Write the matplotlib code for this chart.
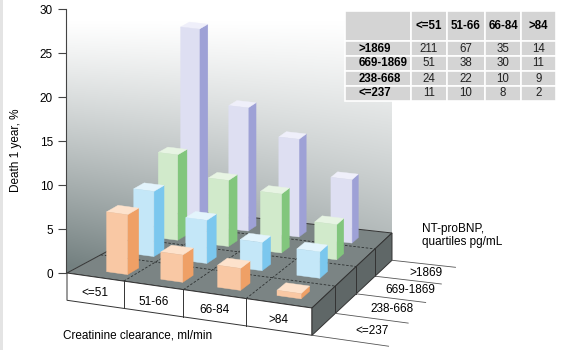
import numpy as np
import matplotlib
matplotlib.use("Agg")
import matplotlib.pyplot as plt
from matplotlib.patches import Polygon, Rectangle

plt.rcParams['font.family'] = ['Liberation Sans', 'DejaVu Sans']

# categories
clearance = ['<=51', '51-66', '66-84', '>84']
ntprobnp = ['<=237', '238-668', '669-1869', '>1869']   # front row -> back row

# death at 1 year, % (one list per NT-proBNP quartile, by clearance group)
death_le237 = [6.8, 3.1, 2.5, 0.6]
death_238_668 = [7.4, 4.9, 3.2, 3.0]
death_669_1869 = [9.7, 7.5, 6.7, 4.0]
death_gt1869 = [22.3, 14.0, 11.1, 7.2]

# numbers in the inset table
n_gt1869 = [211, 67, 35, 14]
n_669_1869 = [51, 38, 30, 11]
n_238_668 = [24, 22, 10, 9]
n_le237 = [11, 10, 8, 2]

yticks = [0, 5, 10, 15, 20, 25, 30]

# bar colours: front, side, top
colors = [
    ('#f9c8a4', '#efa066', '#fde2cc'),
    ('#c4e7f8', '#7bc7ee', '#e3f4fc'),
    ('#d1eacb', '#82c67d', '#e7f4e3'),
    ('#dedff2', '#9ea1d6', '#efeffa'),
]

# ---- perspective projection of the floor --------------------
W, H = 561, 356
ZERO_PX = 273.0      # pixel row of value 0 at the axis
PX_PER_UNIT = 8.8
SLAB = 3.1           # thickness of the base, in value units
floor_px_corners = [(67, 273), (312, 308), (392, 233), (184, 210)]
floor_world = [(0, 0), (4, 0), (4, 4), (0, 4)]

A = []
b = []
for (u, v), (x, y) in zip(floor_world, floor_px_corners):
    A.append([u, v, 1, 0, 0, 0, -u * x, -v * x])
    A.append([0, 0, 0, u, v, 1, -u * y, -v * y])
    b += [x, y]
hv = np.linalg.solve(np.array(A, float), np.array(b, float))
Hm = np.append(hv, 1).reshape(3, 3)


def proj(X, Y, Z=0.0):
    p = Hm @ np.array([X, Y, 1.0])
    x, y = p[0] / p[2], p[1] / p[2]
    return x, (ZERO_PX - y) / PX_PER_UNIT + Z


def poly(pts, **kw):
    return Polygon([proj(*p) for p in pts], closed=True, **kw)


fig = plt.figure(figsize=(W / 100, H / 100), dpi=100)
ax = fig.add_axes([0, 0, 1, 1])
ax.set_xlim(0, W)
ax.set_ylim((ZERO_PX - H) / PX_PER_UNIT, ZERO_PX / PX_PER_UNIT)

# thin grey strip at the left edge of the panel
ax.add_patch(Rectangle((0, (ZERO_PX - 350) / PX_PER_UNIT), 3.5, 350 / PX_PER_UNIT,
                       facecolor='#e4e4e4', edgecolor='none', zorder=0.2))

# ---- walls with gradient ---------------------------------------------
ypx, xpx = np.mgrid[0:H, 0:W]
t = np.clip((ypx - 20) / 245.0, 0, 1) ** 1.15
t = t * (1 - 0.38 * np.clip((xpx - 66) / 330.0, 0, 1))
dark = np.array([0.45, 0.50, 0.50])
img = 1 - t[..., None] * (1 - dark)[None, None, :]
wall = poly([(0, 0, 0), (0, 4, 0), (4, 4, 0), (4, 4, 30), (0, 4, 30), (0, 0, 30)],
            facecolor='none', edgecolor='none')
ax.add_patch(wall)
im = ax.imshow(img, extent=(0, W, (ZERO_PX - H) / PX_PER_UNIT, ZERO_PX / PX_PER_UNIT),
               aspect='auto', zorder=0.5, interpolation='bilinear')
im.set_clip_path(wall)

# ---- base slab ---------------------------------------------------------
ax.add_patch(poly([(0, 0, 0), (4, 0, 0), (4, 4, 0), (0, 4, 0)],
                  facecolor='#7b8484', edgecolor='#333333', lw=0.7, zorder=1))
ax.add_patch(poly([(0, 0, 0), (4, 0, 0), (4, 0, -SLAB), (0, 0, -SLAB)],
                  facecolor='white', edgecolor='#333333', lw=0.7, zorder=1))
ax.add_patch(poly([(4, 0, 0), (4, 4, 0), (4, 4, -SLAB), (4, 0, -SLAB)],
                  facecolor='#5f6767', edgecolor='#333333', lw=0.7, zorder=1))

for k in range(1, 4):
    for p0, p1 in [((k, 0, 0), (k, 4, 0)), ((0, k, 0), (4, k, 0))]:
        xs, ys = zip(proj(*p0), proj(*p1))
        ax.plot(xs, ys, color='#2e3232', lw=0.6, ls=(0, (3, 2)), zorder=1.2)
    xs, ys = zip(proj(k, 0, 0), proj(k, 0, -SLAB))
    ax.plot(xs, ys, color='#333333', lw=0.7, zorder=1.2)
    xs, ys = zip(proj(4, k, 0), proj(4, k, -SLAB))
    ax.plot(xs, ys, color='#333333', lw=0.7, zorder=1.2)

# row label guide lines
for k in range(5):
    xs, ys = zip(proj(4, k, -SLAB), proj(5.1, k, -SLAB))
    ax.plot(xs, ys, color='#555555', lw=0.6, zorder=1.2)

# ---- bars --------------------------------------------------------------
rows = [death_le237, death_238_668, death_669_1869, death_gt1869]
BW, BD = 0.37, 0.35
X0, XSTEP, XSHEAR = 0.53, 0.943, 0.06
Y0, YSTEP = 0.29, 0.96
z = 2
for j in range(3, -1, -1):
    front, side, top = colors[j]
    for i, h in enumerate(rows[j]):
        x0 = X0 + i * XSTEP - j * XSHEAR
        x1 = x0 + BW
        y0 = Y0 + j * YSTEP
        y1 = y0 + BD
        ax.add_patch(poly([(x1, y0, 0), (x1, y1, 0), (x1, y1, h), (x1, y0, h)],
                          facecolor=side, edgecolor=side, lw=0.3, zorder=z))
        ax.add_patch(poly([(x0, y0, h), (x1, y0, h), (x1, y1, h), (x0, y1, h)],
                          facecolor=top, edgecolor=top, lw=0.3, zorder=z))
        ax.add_patch(poly([(x0, y0, 0), (x1, y0, 0), (x1, y0, h), (x0, y0, h)],
                          facecolor=front, edgecolor=front, lw=0.3, zorder=z))
        z += 0.1

# ---- labels --------------------------------------------------------------
for i, lab in enumerate(clearance):
    ax.text(*proj(i + 0.5, 0, -SLAB * 0.6), lab, ha='center', va='center',
            fontsize=8.5, zorder=5)
for j, lab in enumerate(ntprobnp):
    ax.text(*proj(4.72, j + 0.5, -SLAB), lab, ha='center', va='center',
            fontsize=8.5, zorder=5)

ax.text(63, (ZERO_PX - 335) / PX_PER_UNIT, 'Creatinine clearance, ml/min',
        ha='left', va='center', fontsize=8.5)
ax.text(422, (ZERO_PX - 235.5) / PX_PER_UNIT, 'NT-proBNP,\nquartiles pg/mL',
        ha='left', va='center', fontsize=8.5, linespacing=1.05)
ax.text(16, (ZERO_PX - 150) / PX_PER_UNIT, 'Death 1 year, %', rotation=90,
        ha='center', va='center', fontsize=8.5)

# value axis
for s in ['top', 'right', 'bottom']:
    ax.spines[s].set_visible(False)
ax.spines['left'].set_position(('data', 66))
ax.spines['left'].set_bounds(0, 30)
ax.spines['left'].set_color('#444444')
ax.spines['left'].set_linewidth(0.8)
ax.set_xticks([])
ax.set_yticks(yticks)
ax.tick_params(axis='y', length=6, width=0.8, color='#444444', pad=3.5,
               labelsize=8.5)

# ---- inset table -----------------------------------------------------------
tax = fig.add_axes([345 / W, 1 - 101 / H, 211 / W, 90 / H])
tax.axis('off')
body = [[''] + clearance]
for lab, vals in zip(['>1869', '669-1869', '238-668', '<=237'],
                     [n_gt1869, n_669_1869, n_238_668, n_le237]):
    body.append([lab] + [str(v) for v in vals])
tbl = tax.table(cellText=body, bbox=[0, 0, 1, 1],
                colWidths=[66, 36, 38, 36, 35], cellLoc='center')
tbl.auto_set_font_size(False)
for (r, c), cell in tbl.get_celld().items():
    cell.set_facecolor('#d4d4d4')
    cell.set_edgecolor('white')
    cell.set_linewidth(1.2)
    cell.set_height(2.0 if r == 0 else 1.0)
    txt = cell.get_text()
    txt.set_fontsize(8.3)
    txt.set_color('#222222')
    if r == 0 or c == 0:
        txt.set_fontweight('bold')
        txt.set_color('black')
    if c == 0:
        cell.PAD = 0.2
        txt.set_ha('left')

fig.savefig('out.png', dpi=100)
